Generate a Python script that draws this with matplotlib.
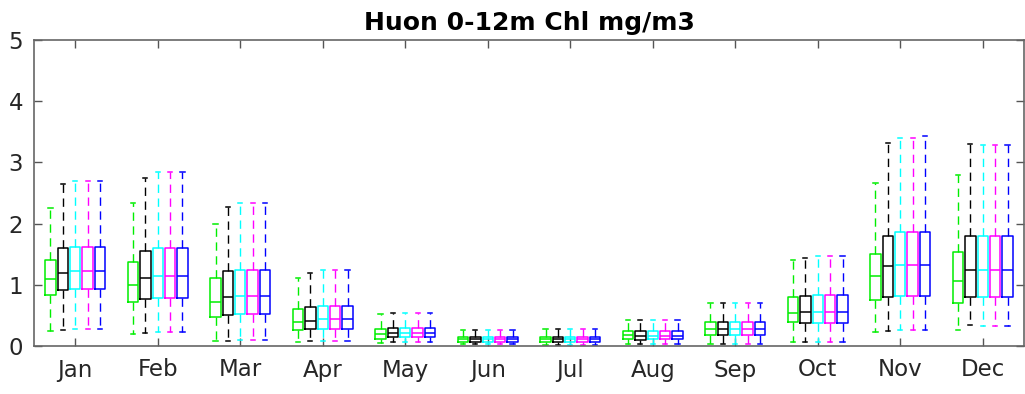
import numpy as np
import matplotlib
matplotlib.use('Agg')
import matplotlib.pyplot as plt

months = ['Jan', 'Feb', 'Mar', 'Apr', 'May', 'Jun', 'Jul', 'Aug', 'Sep', 'Oct', 'Nov', 'Dec']
colors = ['#00ee00', 'black', 'cyan', 'magenta', 'blue']

# rows = series (green, black, cyan, magenta, blue), columns = months
whis_hi = [[2.25, 2.34, 2.00, 1.11, 0.52, 0.26, 0.28, 0.42, 0.70, 1.40, 2.66, 2.80],
           [2.64, 2.74, 2.27, 1.20, 0.54, 0.26, 0.28, 0.42, 0.70, 1.43, 3.32, 3.30],
           [2.69, 2.85, 2.33, 1.24, 0.54, 0.26, 0.28, 0.42, 0.70, 1.47, 3.40, 3.29],
           [2.69, 2.85, 2.33, 1.24, 0.54, 0.26, 0.28, 0.42, 0.70, 1.47, 3.40, 3.29],
           [2.69, 2.85, 2.33, 1.24, 0.54, 0.26, 0.28, 0.42, 0.70, 1.47, 3.43, 3.28]]
q3 = [[1.40, 1.37, 1.11, 0.60, 0.28, 0.15, 0.15, 0.25, 0.39, 0.80, 1.51, 1.54],
      [1.60, 1.55, 1.22, 0.64, 0.30, 0.15, 0.15, 0.25, 0.39, 0.81, 1.80, 1.80],
      [1.62, 1.60, 1.25, 0.66, 0.30, 0.15, 0.15, 0.25, 0.39, 0.83, 1.86, 1.80],
      [1.62, 1.60, 1.24, 0.66, 0.30, 0.15, 0.15, 0.25, 0.39, 0.83, 1.86, 1.80],
      [1.62, 1.60, 1.25, 0.66, 0.30, 0.15, 0.15, 0.25, 0.39, 0.83, 1.86, 1.80]]
med = [[1.09, 1.00, 0.72, 0.39, 0.20, 0.11, 0.11, 0.18, 0.27, 0.54, 1.15, 1.07],
       [1.20, 1.11, 0.80, 0.41, 0.22, 0.11, 0.11, 0.17, 0.28, 0.56, 1.30, 1.24],
       [1.22, 1.14, 0.82, 0.44, 0.22, 0.11, 0.11, 0.17, 0.28, 0.56, 1.33, 1.25],
       [1.22, 1.14, 0.82, 0.44, 0.21, 0.11, 0.11, 0.17, 0.28, 0.56, 1.33, 1.25],
       [1.22, 1.14, 0.82, 0.44, 0.22, 0.11, 0.11, 0.17, 0.28, 0.56, 1.33, 1.25]]
q1 = [[0.83, 0.72, 0.48, 0.26, 0.12, 0.07, 0.07, 0.11, 0.18, 0.39, 0.75, 0.70],
      [0.91, 0.76, 0.50, 0.27, 0.14, 0.07, 0.07, 0.10, 0.18, 0.38, 0.80, 0.80],
      [0.93, 0.78, 0.52, 0.28, 0.14, 0.07, 0.07, 0.11, 0.18, 0.38, 0.82, 0.80],
      [0.93, 0.78, 0.52, 0.28, 0.14, 0.07, 0.07, 0.11, 0.18, 0.38, 0.82, 0.80],
      [0.93, 0.78, 0.52, 0.28, 0.14, 0.07, 0.07, 0.11, 0.18, 0.38, 0.82, 0.80]]
whis_lo = [[0.24, 0.19, 0.08, 0.06, 0.05, 0.03, 0.02, 0.04, 0.04, 0.07, 0.23, 0.26],
           [0.26, 0.22, 0.08, 0.08, 0.06, 0.03, 0.02, 0.04, 0.04, 0.07, 0.25, 0.34],
           [0.28, 0.23, 0.09, 0.08, 0.06, 0.03, 0.02, 0.04, 0.04, 0.07, 0.26, 0.33],
           [0.28, 0.23, 0.09, 0.08, 0.06, 0.03, 0.02, 0.04, 0.04, 0.07, 0.26, 0.33],
           [0.28, 0.23, 0.09, 0.08, 0.06, 0.03, 0.02, 0.04, 0.04, 0.07, 0.26, 0.33]]

offsets = [-0.3, -0.15, 0.0, 0.15, 0.3]

fig = plt.figure(figsize=(10.25, 3.94), dpi=100)
ax = fig.add_axes([34 / 1025, 48 / 394, 990 / 1025, 306 / 394])

x = np.arange(1, 13)
for i, c in enumerate(colors):
    stats = []
    for m in range(12):
        stats.append({'whislo': whis_lo[i][m], 'q1': q1[i][m], 'med': med[i][m],
                      'q3': q3[i][m], 'whishi': whis_hi[i][m], 'fliers': []})
    ax.bxp(stats, positions=x + offsets[i], widths=0.125, showfliers=False,
           capwidths=0.05, manage_ticks=False,
           boxprops=dict(color=c, linewidth=1.1),
           medianprops=dict(color=c, linewidth=1.1),
           whiskerprops=dict(color=c, linewidth=1.0, linestyle=(0, (6, 4))),
           capprops=dict(color=c, linewidth=1.1))

ax.set_xlim(0.5, 12.5)
ax.set_ylim(0, 5)
ax.set_xticks(x)
ax.set_xticklabels(months)
ax.set_yticks([0, 1, 2, 3, 4, 5])
ax.tick_params(direction='in', top=True, right=True, length=6, width=1,
               color='#555555', labelsize=16.5, labelcolor='#262626')
ax.tick_params(axis='x', pad=9)
ax.tick_params(axis='y', pad=8)
for s in ax.spines.values():
    s.set_color('#666666')
    s.set_linewidth(1.2)

ax.set_title('Huon 0-12m Chl mg/m3', fontsize=18, fontweight='bold', pad=7)

fig.savefig('out.png', dpi=100)
